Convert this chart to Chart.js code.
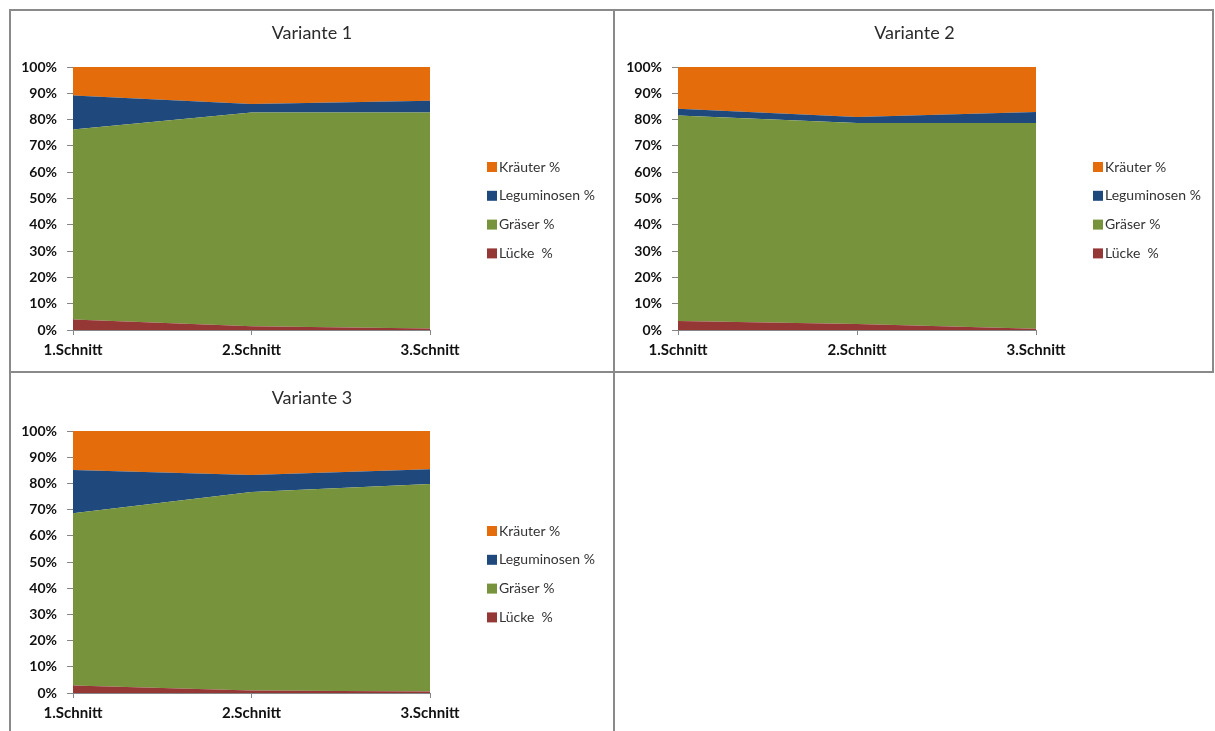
<!DOCTYPE html>
<html>
<head>
<meta charset="utf-8">
<script src="https://cdn.jsdelivr.net/npm/chart.js"></script>
<style>
  html, body { margin: 0; padding: 0; background: #fff; }
  #page { position: relative; width: 1215px; height: 731px; overflow: hidden; background: #fff; }
  .ln { position: absolute; background: #8a8a8a; }
  canvas { position: absolute; }
</style>
</head>
<body>
<div id="page">
  <div class="ln" style="left:9px; top:9px; width:1205px; height:2px;"></div>
  <div class="ln" style="left:9px; top:9px; width:2px; height:722px;"></div>
  <div class="ln" style="left:613px; top:9px; width:2px; height:722px;"></div>
  <div class="ln" style="left:1212px; top:9px; width:2px; height:364px;"></div>
  <div class="ln" style="left:9px; top:371px; width:1205px; height:2px;"></div>
  <canvas id="c1" width="602" height="360" style="left:11px; top:11px;"></canvas>
  <canvas id="c2" width="597" height="360" style="left:616px; top:11px;"></canvas>
  <canvas id="c3" width="602" height="358" style="left:11px; top:373px;"></canvas>
</div>
<script>
// ---- data ----
const categories = ['1.Schnitt', '2.Schnitt', '3.Schnitt'];
const seriesNames = ['Lücke  %', 'Gräser %', 'Leguminosen %', 'Kräuter %'];
const seriesColors = ['#953735', '#77933C', '#1F497D', '#E46C0A'];
const yTickValues = [0, 10, 20, 30, 40, 50, 60, 70, 80, 90, 100];

const titles = ['Variante 1', 'Variante 2', 'Variante 3'];

const v1Luecke = [4.0, 1.4, 0.6];
const v1Graeser = [72.2, 81.3, 82.1];
const v1Legum = [13.0, 3.2, 4.5];
const v1Kraeuter = [10.8, 14.1, 12.8];

const v2Luecke = [3.4, 2.3, 0.5];
const v2Graeser = [78.2, 76.4, 78.2];
const v2Legum = [2.5, 2.3, 4.2];
const v2Kraeuter = [15.9, 19.0, 17.1];

const v3Luecke = [2.9, 1.0, 0.6];
const v3Graeser = [65.7, 75.7, 79.2];
const v3Legum = [16.5, 6.5, 5.6];
const v3Kraeuter = [14.9, 16.8, 14.6];

// ---- chart building ----
const FONT = 'Lato, "Open Sans", sans-serif';

// centre the title across the whole canvas (not only the plot column)
const wideTitle = {
  id: 'wideTitle',
  afterLayout(chart) {
    const t = chart.titleBlock;
    if (t) { t.left = 0; t.right = chart.width; t.width = chart.width; }
  }
};

const sideLegend = {
  id: 'sideLegend',
  afterDraw(chart, args, opts) {
    const { ctx, chartArea } = chart;
    const ds = chart.data.datasets.slice().reverse();
    ctx.save();
    ctx.font = opts.size + 'px ' + FONT;
    ctx.textBaseline = 'middle';
    ctx.textAlign = 'left';
    ds.forEach((d, i) => {
      const y = chartArea.top + opts.firstOffset + i * opts.spacing;
      const x = chartArea.right + opts.gap;
      ctx.fillStyle = d.backgroundColor;
      ctx.fillRect(x, y - 5, 10, 10);
      ctx.fillStyle = '#333333';
      ctx.fillText(d.label, x + 12, y);
    });
    ctx.restore();
  }
};

function makeChart(id, title, series, cfg) {
  const datasets = series.map((vals, i) => ({
    label: seriesNames[i],
    data: vals,
    backgroundColor: seriesColors[i],
    borderColor: seriesColors[i],
    borderWidth: 0,
    pointRadius: 0,
    pointHoverRadius: 0,
    tension: 0,
    fill: i === 0 ? 'origin' : '-1'
  }));
  return new Chart(document.getElementById(id), {
    type: 'line',
    data: { labels: categories, datasets },
    plugins: [wideTitle, sideLegend],
    options: {
      responsive: false,
      animation: false,
      devicePixelRatio: 1,
      layout: { padding: { left: 0, top: 0, bottom: 0, right: cfg.padRight } },
      plugins: {
        legend: { display: false },
        tooltip: { enabled: false },
        title: {
          display: true,
          text: title,
          color: '#2b2b2b',
          font: { family: FONT, size: 18, weight: 'normal', lineHeight: 1.2 },
          padding: { top: cfg.titleTop, bottom: cfg.titleBottom }
        },
        sideLegend: { size: 14, gap: 57, firstOffset: 100, spacing: 28.8 }
      },
      scales: {
        x: {
          offset: false,
          afterFit: (s) => { s.height = cfg.xHeight; },
          grid: { display: true, drawOnChartArea: false, drawTicks: true, tickLength: 5, color: '#868686' },
          border: { display: true, color: '#868686', width: 1 },
          ticks: { color: '#111', padding: 6, maxRotation: 0, font: { family: FONT, size: 15, weight: 'bold' } }
        },
        y: {
          stacked: true,
          min: 0,
          max: 100,
          afterFit: (s) => { s.width = 62; },
          afterBuildTicks: (s) => { s.ticks = yTickValues.map(v => ({ value: v })); },
          grid: { display: true, drawOnChartArea: false, drawTicks: true, tickLength: 6, color: '#868686' },
          border: { display: true, color: '#868686', width: 1 },
          ticks: { color: '#111', padding: 10, font: { family: FONT, size: 14, weight: 'bold' }, callback: (v) => v + '%' }
        }
      }
    }
  });
}

makeChart('c1', titles[0], [v1Luecke, v1Graeser, v1Legum, v1Kraeuter],
  { padRight: 183, titleTop: 11.5, titleBottom: 22.9, xHeight: 41 });
makeChart('c2', titles[1], [v2Luecke, v2Graeser, v2Legum, v2Kraeuter],
  { padRight: 177, titleTop: 11.5, titleBottom: 22.9, xHeight: 41 });
makeChart('c3', titles[2], [v3Luecke, v3Graeser, v3Legum, v3Kraeuter],
  { padRight: 183, titleTop: 14.2, titleBottom: 22.2, xHeight: 38 });
</script>
</body>
</html>
